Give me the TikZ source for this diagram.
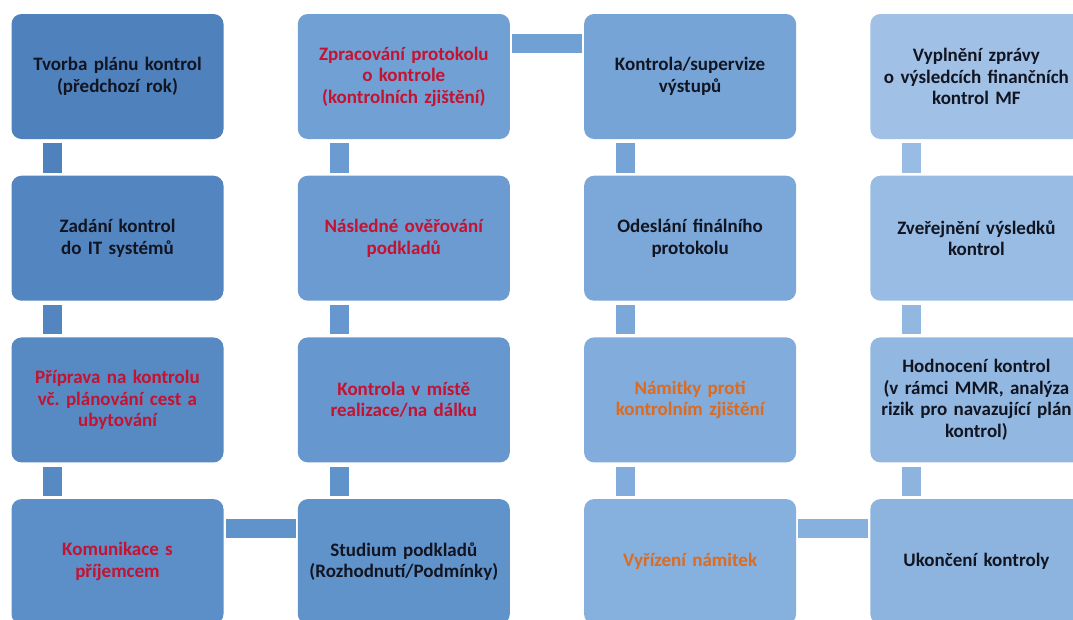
\documentclass[tikz,border=0pt]{standalone}
\usepackage{fontspec}
\setmainfont{Carlito}
\frenchspacing
\definecolor{txk}{HTML}{111522}
\definecolor{txr}{HTML}{C41230}
\definecolor{txo}{HTML}{DD6B1F}
\definecolor{b1}{HTML}{4F81BD}
\definecolor{b2}{HTML}{5385C0}
\definecolor{b3}{HTML}{5789C3}
\definecolor{b4}{HTML}{5C8EC7}
\definecolor{b5}{HTML}{6193CB}
\definecolor{b6}{HTML}{6697CE}
\definecolor{b7}{HTML}{6B9BD1}
\definecolor{b8}{HTML}{71A0D4}
\definecolor{b9}{HTML}{76A4D6}
\definecolor{b10}{HTML}{7BA8D9}
\definecolor{b11}{HTML}{81ACDB}
\definecolor{b12}{HTML}{86B0DD}
\definecolor{b13}{HTML}{8CB4DF}
\definecolor{b14}{HTML}{92B8E1}
\definecolor{b15}{HTML}{98BCE3}
\definecolor{b16}{HTML}{A0C0E5}
\begin{document}
\begin{tikzpicture}[x=1pt,y=-1pt,
  procbox/.style={rectangle, rounded corners=10pt, minimum width=212pt, minimum height=125pt,
    inner sep=0pt, align=center, text width=205pt,
    font=\fontsize{19}{21.5}\selectfont\bfseries},
  barv/.style={fill=#1},
  ]
\useasboundingbox (0,0) rectangle (1073,619);
\clip (0,0) rectangle (1073,619);
% column 1
\node[procbox, fill=b1, text=txk] (a1) at (117.5,76.5) {Tvorba plánu kontrol\\(předchozí rok)};
\node[procbox, fill=b2, text=txk] (a2) at (117.5,238.2) {Zadání kontrol\\do IT systémů};
\node[procbox, fill=b3, text=txr] (a3) at (117.5,399.9) {Příprava na kontrolu\\vč. plánování cest a\\ubytování};
\node[procbox, fill=b4, text=txr] (a4) at (117.5,561.6) {Komunikace s\\příjemcem};
% column 2
\node[procbox, fill=b8, text=txr] (b1) at (403.8,76.5) {Zpracování protokolu\\o kontrole\\(kontrolních zjištění)};
\node[procbox, fill=b7, text=txr] (b2) at (403.8,238.2) {Následné ověřování\\podkladů};
\node[procbox, fill=b6, text=txr] (b3) at (403.8,399.9) {Kontrola v místě\\realizace/na dálku};
\node[procbox, fill=b5, text=txk] (b4) at (403.8,561.6) {Studium podkladů\\(Rozhodnutí/Podmínky)};
% column 3
\node[procbox, fill=b9, text=txk] (c1) at (690.1,76.5) {Kontrola/supervize\\výstupů};
\node[procbox, fill=b10, text=txk] (c2) at (690.1,238.2) {Odeslání finálního\\protokolu};
\node[procbox, fill=b11, text=txo] (c3) at (690.1,399.9) {Námitky proti\\kontrolním zjištění};
\node[procbox, fill=b12, text=txo] (c4) at (690.1,561.6) {Vyřízení námitek};
% column 4
\node[procbox, fill=b16, text=txk] (d1) at (976.4,76.5) {Vyplnění zprávy\\o výsledcích finančních\\kontrol MF};
\node[procbox, fill=b15, text=txk] (d2) at (976.4,238.2) {Zveřejnění výsledků\\kontrol};
\node[procbox, fill=b14, text=txk] (d3) at (976.4,399.9) {Hodnocení kontrol\\(v rámci MMR, analýza\\rizik pro navazující plán\\kontrol)};
\node[procbox, fill=b13, text=txk] (d4) at (976.4,561.6) {Ukončení kontroly};
% vertical connectors
\foreach \u/\v/\c in {a1/a2/b1, a2/a3/b2, a3/a4/b3,
                      b1/b2/b7, b2/b3/b6, b3/b4/b5,
                      c1/c2/b9, c2/c3/b10, c3/c4/b11,
                      d1/d2/b15, d2/d3/b14, d3/d4/b13}{
  \fill[barv=\c] ([xshift=32pt,yshift=-4pt]\u.south west) rectangle ([xshift=51pt,yshift=3pt]\v.north west);
}
% horizontal connectors
\foreach \u/\v/\c in {a4/b4/b5, b1/c1/b8, c4/d4/b12}{
  \fill[barv=\c] ([xshift=2pt,yshift=-20pt]\u.north east) rectangle ([xshift=-2pt,yshift=-39pt]\v.north west);
}
\end{tikzpicture}
\end{document}
